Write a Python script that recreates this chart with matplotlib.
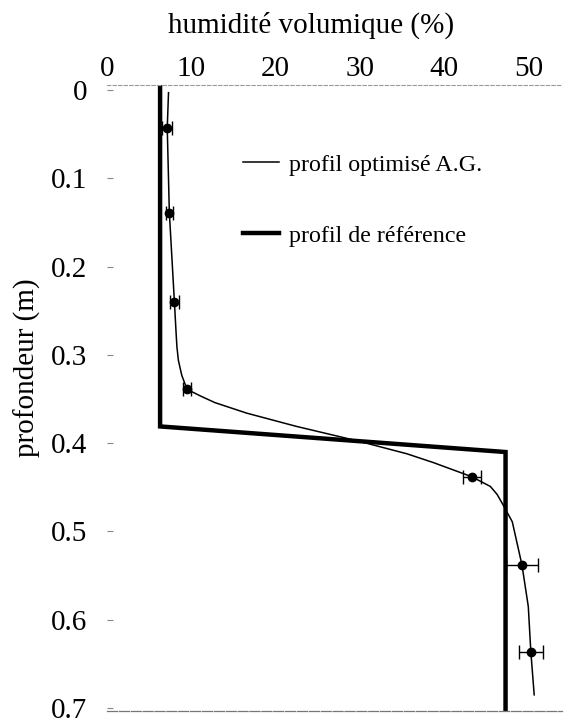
import matplotlib
matplotlib.use("Agg")
import matplotlib.pyplot as plt

plt.rcParams['font.family'] = ['Liberation Serif', 'DejaVu Serif']

# reference profile (thick)
ref_depth = [-0.005, 0.381, 0.41, 0.703]
ref_theta = [6.3, 6.3, 47.3, 47.3]

# optimised profile (thin)
opt_depth = [0.003, 0.043, 0.139, 0.24, 0.275, 0.291, 0.306, 0.323, 0.339, 0.347,
             0.354, 0.366, 0.381, 0.398, 0.412, 0.422, 0.438, 0.449, 0.458, 0.468,
             0.489, 0.538, 0.585, 0.636, 0.685]
opt_theta = [7.3, 7.15, 7.4, 8.0, 8.2, 8.3, 8.47, 8.87, 9.5, 11.2,
             12.8, 16.6, 22.5, 30.0, 35.6, 38.75, 43.3, 45.5, 46.3, 46.9,
             48.1, 49.25, 50.0, 50.3, 50.7]

# measured points with error bars
pt_depth = [0.043, 0.139, 0.24, 0.339, 0.438, 0.538, 0.636]
pt_theta = [7.15, 7.4, 8.0, 9.5, 43.3, 49.25, 50.3]
pt_err = [0.6, 0.4, 0.55, 0.45, 1.1, 1.85, 1.4]

x_ticks = [0, 10, 20, 30, 40, 50]
y_ticks = [0, 0.1, 0.2, 0.3, 0.4, 0.5, 0.6, 0.7]
y_labels = ["0", "0.1", "0.2", "0.3", "0.4", "0.5", "0.6", "0.7"]

W, H = 568, 725
fig = plt.figure(figsize=(W / 100, H / 100), dpi=100)
x0, x1 = 107, 562
y0, y1 = 85, 711
ax = fig.add_axes([x0 / W, 1 - y1 / H, (x1 - x0) / W, (y1 - y0) / H])

ax.plot(opt_theta, opt_depth, color='black', lw=1.1, label='profil optimisé A.G.')
ax.plot(ref_theta, ref_depth, color='black', lw=3.2, solid_joinstyle='miter',
        label='profil de référence')
ax.errorbar(pt_theta, pt_depth, xerr=pt_err, fmt='o', color='black', ms=6,
            elinewidth=1.0, capsize=5, capthick=1.0)

ax.set_xlim(0, 54)
ax.set_ylim(0.7033, -0.0057)
ax.xaxis.tick_top()
ax.xaxis.set_label_position('top')
ax.set_xticks(x_ticks)
ax.set_xticklabels([str(t) for t in x_ticks])
ax.set_yticks(y_ticks)
ax.set_yticklabels(y_labels)
ax.tick_params(axis='x', length=0, pad=2.5, labelsize=21)
ax.tick_params(axis='y', direction='in', length=4, width=0.8, color='#888888',
               pad=14, labelsize=21)

for s in ['left', 'right']:
    ax.spines[s].set_visible(False)
ax.spines['top'].set_color('#9a9a9a')
ax.spines['top'].set_linewidth(0.8)
ax.spines['top'].set_linestyle((0, (3, 2)))
ax.spines['bottom'].set_color('#777777')
ax.spines['bottom'].set_linewidth(0.9)
ax.spines['bottom'].set_linestyle((0, (8, 1.5)))

fig.text(311 / W, 1 - 25 / H, 'humidité volumique (%)', ha='center', va='center', fontsize=21)
fig.text(27 / W, 1 - 368 / H, 'profondeur (m)', ha='center', va='center',
         rotation=90, fontsize=21)

leg = ax.legend(loc='upper left', bbox_to_anchor=(243 / W, 1 - 154 / H),
                bbox_transform=fig.transFigure, frameon=False, fontsize=17.3,
                handlelength=1.5, handletextpad=0.42, labelspacing=2.05,
                borderpad=0, borderaxespad=0)

fig.savefig('out.png', dpi=100)
